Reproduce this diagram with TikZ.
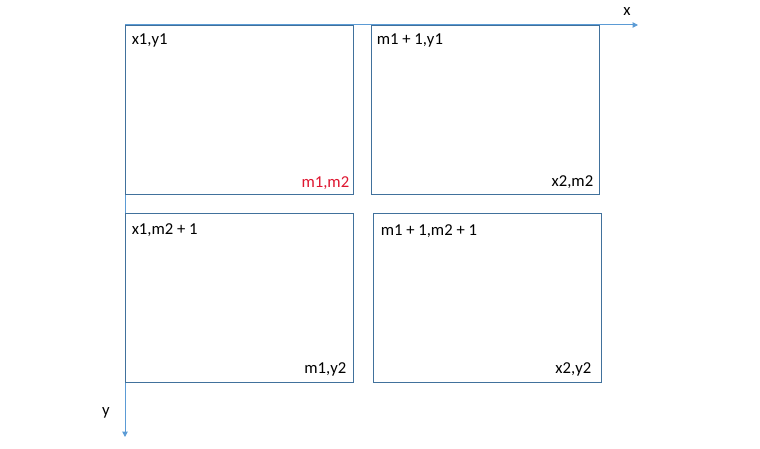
\documentclass[tikz,border=0pt]{standalone}
\usepackage{xcolor}
\usepackage{fontspec}
\setmainfont{Carlito}
\usepackage{tikz}
\usetikzlibrary{positioning,calc,arrows.meta}

\definecolor{boxline}{RGB}{65,113,156}
\definecolor{axisline}{RGB}{91,155,213}
\definecolor{cornerred}{RGB}{222,22,48}

\tikzset{
	blk/.style={draw=boxline, line width=0.75pt, minimum width=171pt, minimum height=126.75pt, inner sep=0pt},
	lbl/.style={font=\fontsize{12.5}{14}\selectfont, inner sep=0pt},
	axis/.style={draw=axisline, line width=0.75pt, -{Triangle[length=4pt,width=4pt]}}
}

\begin{document}
\begin{tikzpicture}[x=0.75pt,y=-0.75pt]
								\useasboundingbox (0,0) rectangle (760,449);
								\def\gx{7}
								\def\gy{20}
								
								% axes
								\coordinate (origin) at (125,25);
								\coordinate (xend) at (638,25);
								\coordinate (yend) at (125,437);
								\draw[axis] (origin) -- (xend);
								\draw[axis] (origin) -- (yend);
								\node[lbl] (xlab) at (627,12) {x};
								\node[lbl] (ylab) at (106,413) {y};
								
								% top row
								\node[blk] (tl) at (239,110) {};
								\node[blk] (tr) at (485,110) {};
								% bottom row
								\node[blk] (bl) at (239,297.5) {};
								\node[blk] (br) at (487,297.5) {};
								
								% corner labels, top left
								\node[lbl, anchor=base west] (tlA) at ($(tl.north west)+(\gx,\gy)$) {x1,y1};
								\node[lbl, anchor=base east, text=cornerred] (tlB) at ($(tl.south east)+(-4,-7)$) {m1,m2};
								% top right
								\node[lbl, anchor=base west] (trA) at ($(tr.north west)+(6,\gy)$) {m1 + 1,y1};
								\node[lbl, anchor=base east] (trB) at ($(tr.south east)+(-6,-9)$) {x2,m2};
								% bottom left
								\node[lbl, anchor=base west] (blA) at ($(bl.north west)+(\gx,22)$) {x1,m2 + 1};
								\node[lbl, anchor=base east] (blB) at ($(bl.south east)+(-7,-9)$) {m1,y2};
								% bottom right
								\node[lbl, anchor=base west] (brA) at ($(br.north west)+(8,23)$) {m1 + 1,m2 + 1};
								\node[lbl, anchor=base east] (brB) at ($(br.south east)+(-10,-9)$) {x2,y2};
							\end{tikzpicture}
\end{document}
